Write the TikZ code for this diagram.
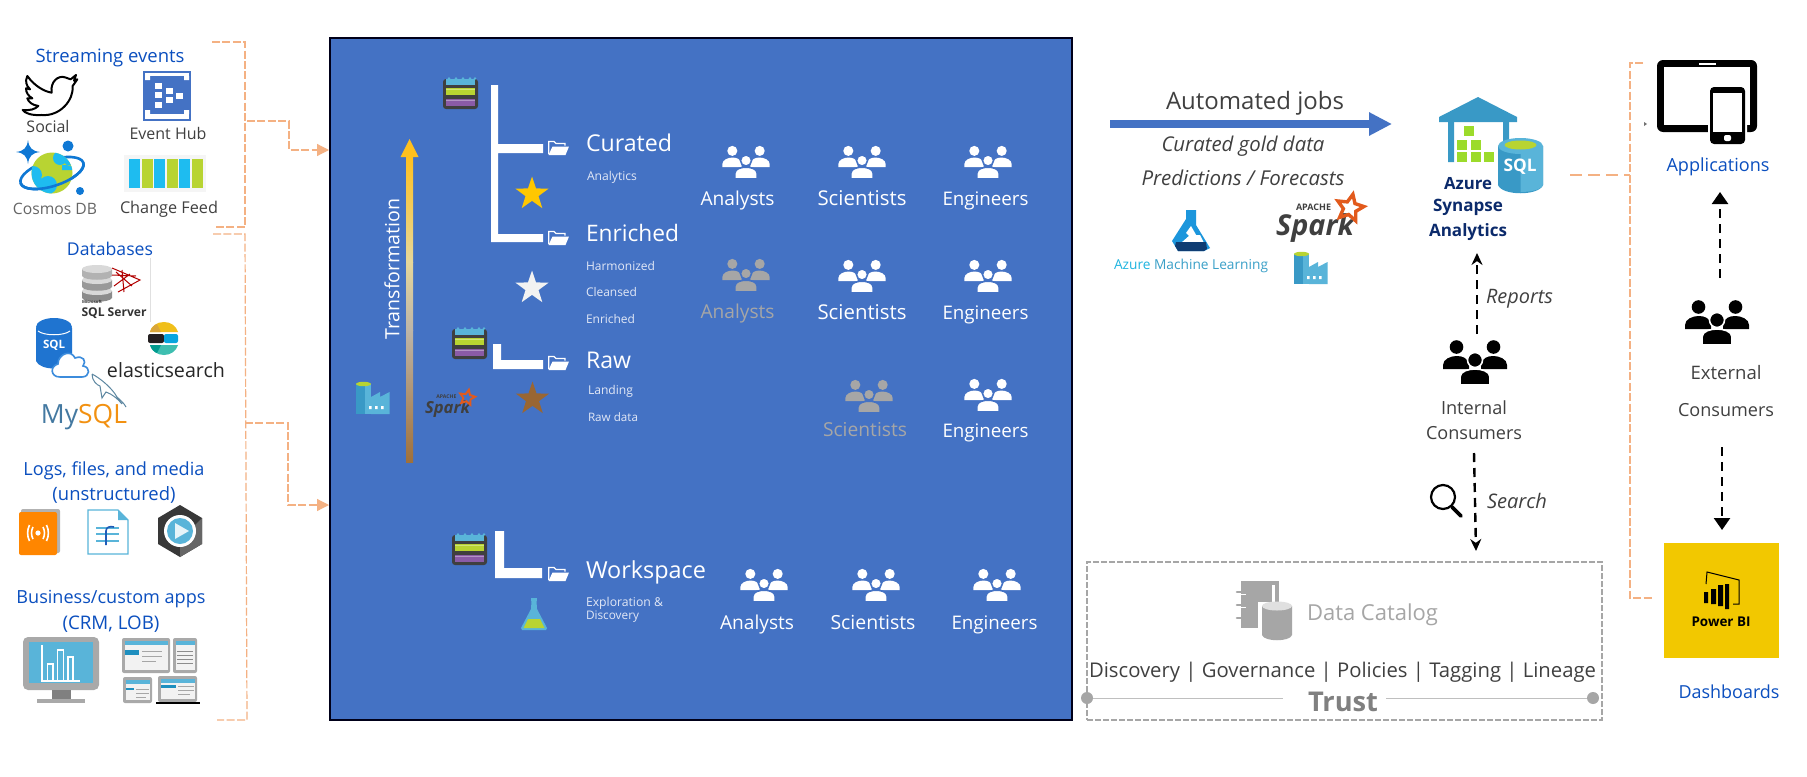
\documentclass[tikz,border=0pt]{standalone}
\usepackage{fontspec}
\setmainfont{Open Sans}
\usetikzlibrary{arrows.meta,shapes.geometric}
\newlength\fitL
\newcommand\fw[2]{\setlength\fitL{#1pt}\resizebox{0.5\fitL}{!}{#2}}
\definecolor{boxblue}{HTML}{4472C4}
\definecolor{linkblue}{HTML}{0B4FBF}
\definecolor{txt}{HTML}{404040}
\definecolor{orng}{HTML}{F4B183}
\definecolor{azlight}{HTML}{59B4D9}
\definecolor{azdark}{HTML}{3999C6}
\definecolor{azlime}{HTML}{B8D432}
\definecolor{lakedark}{HTML}{3F3F3F}
\definecolor{lakepurple}{HTML}{8A5BA6}
\definecolor{softwhite}{HTML}{E2E8F6}
\definecolor{greyed}{HTML}{A6A6A6}
\definecolor{frameg}{HTML}{A9A9A9}
\definecolor{navy}{HTML}{0B2A6B}
\definecolor{sparkor}{HTML}{E25A1C}
\definecolor{cosmosb}{HTML}{0F78D4}
\definecolor{cosmosc}{HTML}{1EBCF0}
\definecolor{sqlb}{HTML}{1F74D0}
\definecolor{cloudl}{HTML}{3C8CDC}
\definecolor{elY}{HTML}{F0BF1A}
\definecolor{elYd}{HTML}{D9A63A}
\definecolor{elK}{HTML}{231F20}
\definecolor{elB}{HTML}{07A5DE}
\definecolor{elT}{HTML}{3EBEB0}
\definecolor{elTd}{HTML}{019B8F}
\definecolor{dolph}{HTML}{5D87A1}
\definecolor{fdark}{HTML}{1F5CB8}
\definecolor{strip}{HTML}{1E8FBF}
\definecolor{starG}{HTML}{FFC700}
\definecolor{starB}{HTML}{996633}
\definecolor{arrG}{HTML}{FFC01E}
\definecolor{arrM}{HTML}{E6D79A}
\definecolor{arrN}{HTML}{BDB5A8}
\definecolor{arrB}{HTML}{A0703A}
\definecolor{mlb}{HTML}{1C96DC}
\definecolor{mld}{HTML}{0F3D73}
\definecolor{pbiy}{HTML}{F2C800}
\tikzset{
  lbl/.style={inner sep=0pt,outer sep=0pt,text=txt},
  src/.style={lbl,text=linkblue},
  wht/.style={lbl,text=white},
  sml/.style={lbl,anchor=west,text=softwhite},
  gry/.style={lbl,text=greyed},
  orangedash/.style={draw=orng,line width=.6pt,dash pattern=on 4pt off 1.2pt},
  blackdash/.style={draw=black,line width=1.2pt,dash pattern=on 4.5pt off 3pt},
  bigstar/.style={star,star points=5,star point ratio=2.55,minimum size=17.5pt,inner sep=0pt},
}
\newcommand\peopleicon[6]{% name x y scale colour bg
  \coordinate (#1) at (#2,#3);
  \begin{scope}[shift={(#2,#3)},scale=#4]
    \fill[#5] (-18.5,-15) circle (6.8) (18.5,-15) circle (6.8);
    \fill[#5] (-32,7) -- (-32,3) .. controls (-32,-3) and (-24,-6) .. (-18.5,-6) .. controls (-12,-6) and (-8,-4) .. (-6,2) -- (-6,7) -- cycle;
    \fill[#5] (32,7) -- (32,3) .. controls (32,-3) and (24,-6) .. (18.5,-6) .. controls (12,-6) and (8,-4) .. (6,2) -- (6,7) -- cycle;
    \fill[#5,draw=#6,line width=.8pt] (0,-2) circle (7.5);
    \fill[#5,draw=#6,line width=.8pt] (-15,23) -- (-15,15) .. controls (-15,9) and (-6,7) .. (0,7) .. controls (6,7) and (15,9) .. (15,15) -- (15,23) -- cycle;
  \end{scope}}
\newcommand\lakeicon[3]{%
  \coordinate (#1) at (#2,#3);
  \begin{scope}[shift={(#2,#3)}]
    \fill[lakedark,rounded corners=1.5pt] (0,2) rectangle (35,32);
    \fill[azlight] (3,1.5) rectangle (32,8);
    \fill[azlime] (3,11) rectangle (32,18);
    \fill[lakepurple] (3,21.5) rectangle (32,29);
    \foreach \kk in {6,13,20,27,32}{\fill[azlight] (\kk,1.5) circle (1.3);}
    \draw[white,opacity=.35,line width=.5pt] (3,12.5) -- (32,12.5) (3,23) -- (32,23);
  \end{scope}}
\newcommand\foldericon[3]{%
  \coordinate (#1) at (#2,#3);
  \begin{scope}[shift={(#2,#3)}]
    \draw[white,line width=.6pt] (.7,14) -- (.7,1.5) -- (6,1.5) -- (8,3.5) -- (17,3.5) -- (17,5.5);
    \fill[white] (4.5,6.5) -- (21,6.5) -- (17.5,15) -- (0.5,15) -- cycle;
  \end{scope}}
\newcommand\factoryicon[3]{%
  \coordinate (#1) at (#2,#3);
  \begin{scope}[shift={(#2,#3)}]
    \fill[azdark] (0,2) rectangle (15,32);
    \fill[azlight] (9,2) rectangle (15,32);
    \fill[azlime] (7.5,2) ellipse (7.5 and 2.2);
    \fill[azlight] (15,15) -- (24,10) -- (24,15) -- (33.5,10) -- (33.5,32) -- (15,32) -- cycle;
    \fill[white] (13,24) rectangle (15.5,27) (19,24) rectangle (21.5,27) (25,24) rectangle (27.5,27);
  \end{scope}}
\newcommand\sparklogo[6]{% name x y scale textwidth apachewidth
  \coordinate (#1) at (#2,#3);
  \begin{scope}[shift={(#2,#3)},scale=#4]
    \node[lbl,text=lakedark,font=\bfseries\itshape,anchor=west] (#1t) at (0,35) {\fw{#5}{Spark}};
    \node[lbl,text=lakedark,font=\bfseries,anchor=west] (#1a) at (20,14) {\fw{#6}{APACHE}};
    \node[star,star points=5,star point ratio=2.1,minimum size=#4*14pt,inner sep=0pt,draw=sparkor,line width=#4*1.7pt,rotate=-12] (#1s) at (74,15) {};
  \end{scope}}
\newcommand\miniscreen[4]{% x1 y1 x2 y2 (frame)
  \fill[frameg,rounded corners=1pt] (#1,#2) rectangle (#3,#4);
  \fill[white!95!black] (#1+2.5,#2+3) rectangle (#3-2.5,#4-3);
  \fill[azlight] (#1+2.5,#2+3) rectangle (#3-2.5,#2+7);}
\begin{document}
\begin{tikzpicture}[x=.5pt,y=-.5pt]
\useasboundingbox (0,0) rectangle (1807,776);
\fill[white] (0,0) rectangle (1807,776);

%------ left column texts
\node[src] (tStream) at (110,58) {\fw{149}{Streaming events}};
\node[lbl] (tSocial) at (48,127) {\fw{43}{Social}};
\node[lbl] (tHub) at (168,133) {\fw{77}{Event Hub}};
\node[lbl,text=black!60] (tCosmos) at (55,209) {\fw{84}{Cosmos DB}};
\node[lbl] (tFeed) at (169,209) {\fw{98}{Change Feed}};
\node[src] (tDb) at (110,249) {\fw{86}{Databases}};
\node[lbl,text=black!85] (tElastic) at (166,370) {\fw{118}{elasticsearch}};
\node[lbl] (tMy) at (84,417) {\fw{86}{\textcolor[HTML]{4479A1}{My}\textcolor[HTML]{F29111}{SQL}}};
\node[src] (tLogs) at (114,471) {\fw{181}{Logs, files, and media}};
\node[src] (tUns) at (114,495) {\fw{123}{(unstructured)}};
\node[src] (tBiz) at (111,599) {\fw{189}{Business/custom apps}};
\node[src] (tCrm) at (111,624) {\fw{97}{(CRM, LOB)}};

%------ twitter
\begin{scope}[shift={(0,20)},scale=.3333]
\draw[black,fill=white,line width=1pt,line join=round] (82,168) .. controls (105,200) and (135,215) .. (155,218)
  .. controls (150,185) and (175,165) .. (195,172) -- (212,178) -- (228,165) -- (222,182) -- (232,178) -- (218,198)
  .. controls (222,240) and (180,290) .. (125,285) .. controls (95,287) and (75,280) .. (68,270)
  .. controls (90,272) and (105,268) .. (115,258) .. controls (95,255) and (85,245) .. (82,235) -- (97,235)
  .. controls (85,228) and (78,218) .. (78,205) -- (90,208) .. controls (78,195) and (75,185) .. (82,168) -- cycle;
\end{scope}
%------ event hub
\fill[boxblue] (143,71) rectangle (191,121);
\fill[white] (145,73) rectangle (189,119);
\fill[boxblue] (145,76) rectangle (189,114);
\fill[white] (145,76) rectangle (150,80) (184,76) rectangle (189,80) (145,110) rectangle (150,114) (184,110) rectangle (189,114);
\foreach \sx/\sy in {158/86,158/95,169/91,169/100,179/96,158/105}{\fill[white] (\sx-3.5,\sy-3) rectangle (\sx+3.5,\sy+3);}
%------ cosmos
\begin{scope}[shift={(52,173)},rotate=18]
\draw[cosmosb,line width=1.3pt] (0,0) ellipse (33 and 13);
\end{scope}
\fill[azlime] (52,173) circle (20.5);
\begin{scope}
\clip (52,173) circle (20.5);
\fill[cosmosc] (33,175) circle (9) (48,185) circle (9) (34,190) circle (10);
\fill[cosmosc] (60,158) circle (7) (70,160) circle (6) (62,165) rectangle (74,170);
\end{scope}
\begin{scope}[shift={(52,173)},rotate=18]
\clip (-40,0) rectangle (40,20);
\draw[cosmosb,line width=1.3pt] (0,0) ellipse (33 and 13);
\end{scope}
\fill[cosmosb] (28,140) .. controls (29,148) and (32,151) .. (40,152) .. controls (32,153) and (29,156) .. (28,164) .. controls (27,156) and (24,153) .. (16,152) .. controls (24,151) and (27,148) .. (28,140) -- cycle;
\fill[cosmosb] (68,146) circle (5.5) (80,191) circle (4);
%------ change feed
\fill[black!4] (124,155) rectangle (206,192);
\foreach \cx/\cc in {129/cosmosc,141.5/azlime,154/cosmosc,166.5/azlime,179/cosmosc,191.5/azlime}{\fill[\cc] (\cx,159) rectangle (\cx+11,188);}
%------ sql server
\draw[black!12,line width=.5pt] (150,258) -- (150,322);
\foreach \dy/\dc in {288/black!45,277/black!40,266/black!30}{
  \fill[\dc] (82,\dy+3) -- (82,\dy+10) .. controls (84,\dy+15) and (110,\dy+15) .. (112,\dy+10) -- (112,\dy+3) -- cycle;
  \fill[black!15] (97,\dy+3) ellipse (15 and 4);}
\draw[red!70!black,line width=.5pt] (112,268) -- (140,280) -- (118,292) (116,272) -- (132,286) (122,270) -- (124,292) (130,274) -- (114,286) (112,275) -- (136,276);
\node[lbl,text=black!80,font=\bfseries] (tMs) at (92,302) {\fw{20}{Microsoft}};
\node[lbl,text=black!80,font=\bfseries] (tSqlS) at (114,313) {\fw{65}{SQL Server}};
%------ sql db cloud
\fill[sqlb] (36,328) -- (36,361) .. controls (40,371) and (68,371) .. (72,361) -- (72,328) -- cycle;
\fill[sqlb] (54,327) ellipse (18 and 9);
\draw[white,line width=.5pt] (38,331) .. controls (44,336) and (64,336) .. (70,331);
\node[lbl,text=white,font=\bfseries] (tSql) at (54,345) {\fw{22}{SQL}};
\draw[fill=white,draw=cloudl,line width=.8pt] (60,377) .. controls (50,377) and (50,366) .. (58,364) .. controls (58,354) and (71,349) .. (75,358) .. controls (83,355) and (87,361) .. (83,366) .. controls (91,367) and (90,377) .. (82,377) -- cycle;
%------ elastic
\fill[elY] (150,332) .. controls (151,326) and (157,322) .. (164,322) .. controls (171,322) and (176,326) .. (178,332) -- cycle;
\fill[elYd] (150,332) .. controls (151,328) and (154,325) .. (157,324) -- (161,332) -- cycle;
\fill[elK,rounded corners=1pt] (148,334) rectangle (164,343);
\fill[elB,rounded corners=1pt] (164,334) rectangle (178,343);
\fill[elT] (150,345) .. controls (152,351) and (157,355) .. (164,355) .. controls (171,355) and (176,351) .. (178,345) -- cycle;
\fill[elTd] (150,345) .. controls (151,349) and (154,352) .. (157,353) -- (161,345) -- cycle;
%------ dolphin
\draw[dolph,line width=.5pt] (92,374) .. controls (100,378) and (112,388) .. (117,397) .. controls (120,400) and (124,403) .. (126,407) (92,374) .. controls (92,381) and (97,385) .. (100,386) -- (102,398) -- (106,392) .. controls (112,394) and (118,399) .. (122,404);
%------ logs icons
\fill[black!30,rounded corners=1pt] (21,509) rectangle (60,553);
\fill[orange!95!yellow,rounded corners=1pt] (19,512) rectangle (57,555);
\fill[white] (38,533) circle (2.6);
\draw[white,line width=.8pt] (33,527) .. controls (31,531) and (31,535) .. (33,539) (43,527) .. controls (45,531) and (45,535) .. (43,539) (29.5,525) .. controls (27,530) and (27,536) .. (29.5,541) (46.5,525) .. controls (49,530) and (49,536) .. (46.5,541);
\draw[azlight,fill=white,line width=.7pt] (88,510) -- (118,510) -- (128,520) -- (128,554) -- (88,554) -- cycle;
\fill[azlight] (118,510) -- (128,520) -- (118,520) -- cycle;
\draw[azlight,line width=.9pt] (96,528) -- (119,528) (96,534) -- (119,534) (96,541) -- (119,541);
\draw[fdark,line width=.8pt] (106,545) -- (106,531) .. controls (106,527) and (110,526) .. (114,527);
\fill[black!78] (180,505) -- (202,518) -- (202,544) -- (180,557) -- (158,544) -- (158,518) -- cycle;
\fill[black!60] (202,518) -- (202,544) -- (180,557) -- (180,540) -- cycle;
\fill[white] (180,531) circle (16);
\fill[azlight] (180,531) circle (13);
\fill[white!85!azlight] (175,523) -- (189,531) -- (175,539) -- cycle;
%------ monitor
\fill[frameg,rounded corners=2.5pt] (23,637) rectangle (99,690);
\fill[azlight] (29,642) rectangle (93,683);
\draw[white,line width=.6pt] (42,645) -- (42,681) -- (80,681);
\draw[white,line width=.6pt] (47.5,681) -- (47.5,664) -- (53,664) -- (53,681) (57.5,681) -- (57.5,650) -- (63.5,650) -- (63.5,681) (68,681) -- (68,657) -- (73,657) -- (73,681);
\fill[black!50] (52,690) rectangle (71,699);
\fill[frameg] (37,699) rectangle (85,703);
%------ devices
\miniscreen{122}{638}{170}{673}
\fill[strip] (125,650) rectangle (139,655);
\draw[black!35,line width=.4pt] (142,651) -- (162,651) (142,656) -- (162,656) (142,661) -- (156,661);
\miniscreen{173}{638}{197}{673}
\draw[black!45,line width=.4pt] (177,651) -- (193,651) (177,655) -- (193,655) (177,659) -- (193,659) (177,663) -- (193,663);
\miniscreen{123}{677}{152}{703}
\fill[strip] (125.5,688) rectangle (134,690);
\draw[black!35,line width=.4pt] (136,689) -- (149,689) (136,693) -- (149,693) (136,697) -- (146,697);
\miniscreen{158}{676}{197}{702}
\fill[strip] (160.5,685) rectangle (176,688);
\draw[black!35,line width=.4pt] (178,686) -- (194,686) (178,690) -- (194,690) (178,694) -- (190,694);
\draw[black,line width=.6pt] (156,703) -- (200,703);

%------ central box
\node[draw=black!90!blue,line width=1pt,fill=boxblue,minimum width=371pt,minimum height=341pt,inner sep=0pt] (lake) at (701,379) {};

%------ source connectors
\coordinate (a1) at (212,42); \coordinate (a2) at (245,42); \coordinate (a3) at (245,227); \coordinate (a4) at (215,227);
\coordinate (b1) at (213,234); \coordinate (b2) at (245,234); \coordinate (b3) at (247,720); \coordinate (b4) at (217,720);
\coordinate (c1) at (247,121); \coordinate (c2) at (289,121); \coordinate (c3) at (289,150);
\coordinate (d1) at (245,423); \coordinate (d2) at (288,423); \coordinate (d3) at (288,505);
\draw[orangedash] (a1) -- (a2) -- (a3) -- (a4);
\draw[orangedash] (b1) -- (b2) -- (b3) -- (b4);
\draw[orangedash,-{Triangle[length=6pt,width=6pt]}] (c1) -- (c2) -- (c3) -- (c3 -| lake.west);
\draw[orangedash,-{Triangle[length=6pt,width=6pt]}] (d1) -- (d2) -- (d3) -- (d3 -| lake.west);

%------ zones
\lakeicon{l1}{443}{77}
\lakeicon{l2}{452}{327}
\lakeicon{l3}{452}{533}
\fill[white] (491,85) rectangle (498,242) (491,144) rectangle (543,153) (491,234) rectangle (543,242);
\fill[white] (493,344) rectangle (501,369) (493,360) rectangle (543,369);
\fill[white] (495,531) rectangle (504,578) (495,568) rectangle (542,578);
\foldericon{f1}{548}{140}
\foldericon{f2}{548}{230}
\foldericon{f3}{548}{355}
\foldericon{f4}{548}{566}

\node[wht,anchor=west] (zCur) at (586,143) {\fw{86}{Curated}};
\node[sml] (zAna) at (587,177) {\fw{50}{Analytics}};
\node[wht,anchor=west] (zEnr) at (586,233) {\fw{93}{Enriched}};
\node[sml] (zHar) at (586,266) {\fw{69}{Harmonized}};
\node[sml] (zCle) at (586,292) {\fw{51}{Cleansed}};
\node[sml] (zEn2) at (586,319) {\fw{49}{Enriched}};
\node[wht,anchor=west] (zRaw) at (586,360) {\fw{45}{Raw}};
\node[sml] (zLan) at (588,391) {\fw{45}{Landing}};
\node[sml] (zRda) at (588,417) {\fw{50}{Raw data}};
\node[wht,anchor=west] (zWor) at (586,572) {\fw{120}{Workspace}};
\node[sml] (zExp) at (586,603) {\fw{77}{Exploration \&}};
\node[sml] (zDis) at (586,617) {\fw{53}{Discovery}};

\node[bigstar,fill=starG] (s1) at (532,194) {};
\node[bigstar,fill=black!5] (s2) at (532,288) {};
\node[bigstar,fill=starB] (s3) at (532.5,399) {};

%------ transformation arrow
\shade[top color=arrG,bottom color=arrM] (406,155) rectangle (413,262);
\shade[top color=arrM,bottom color=arrN] (406,262) rectangle (413,330);
\shade[top color=arrN,bottom color=arrB] (406,330) rectangle (413,462);
\fill[arrG] (409.5,139) -- (418.5,157) -- (400.5,157) -- cycle;
\node[wht,rotate=90] (zTra) at (392,269) {\fw{141}{Transformation}};
\factoryicon{fa1}{356}{382}
\sparklogo{sp1}{425}{389}{.57}{45}{20}
\begin{scope}[shift={(521,598)}]
\fill[azlight] (10,0) rectangle (16,3);
\fill[azlight] (10.5,3) -- (15.5,3) -- (16,11) -- (26,30) -- (25,32) -- (1,32) -- (0,30) -- (10,11) -- cycle;
\fill[azlime] (7,21) -- (19,21) -- (23.5,30) -- (2.5,30) -- cycle;
\end{scope}

%------ people in lake
\peopleicon{p11}{746}{162}{.74}{white}{boxblue}
\peopleicon{p12}{862}{162}{.74}{white}{boxblue}
\peopleicon{p13}{988}{162}{.74}{white}{boxblue}
\peopleicon{p21}{746}{275}{.74}{greyed}{boxblue}
\peopleicon{p22}{862}{276}{.74}{white}{boxblue}
\peopleicon{p23}{988}{276}{.74}{white}{boxblue}
\peopleicon{p32}{869}{396}{.74}{greyed}{boxblue}
\peopleicon{p33}{988}{395}{.74}{white}{boxblue}
\peopleicon{p41}{764}{585}{.74}{white}{boxblue}
\peopleicon{p42}{876}{585}{.74}{white}{boxblue}
\peopleicon{p43}{997}{585}{.74}{white}{boxblue}
\node[wht] (r11) at (737.5,200.5) {\fw{74}{Analysts}};
\node[wht] (r12) at (862,198) {\fw{89}{Scientists}};
\node[wht] (r13) at (985.5,200.5) {\fw{86}{Engineers}};
\node[gry] (r21) at (737.5,314) {\fw{74}{Analysts}};
\node[wht] (r22) at (862,312) {\fw{89}{Scientists}};
\node[wht] (r23) at (985.5,314.5) {\fw{86}{Engineers}};
\node[gry] (r32) at (865,430) {\fw{84}{Scientists}};
\node[wht] (r33) at (985.5,432.5) {\fw{86}{Engineers}};
\node[wht] (r41) at (757,624.5) {\fw{74}{Analysts}};
\node[wht] (r42) at (873,622) {\fw{85}{Scientists}};
\node[wht] (r43) at (994.5,624.5) {\fw{86}{Engineers}};

%------ automated jobs
\coordinate (j1) at (1110,124); \coordinate (j2) at (1392,124);
\draw[boxblue,line width=4pt,-{Triangle[length=11.5pt,width=11pt]}] (j1) -- (j2);
\node[lbl] (tAuto) at (1255,103) {\fw{178}{Automated jobs}};
\node[lbl,font=\itshape] (tGold) at (1243,146) {\fw{163}{Curated gold data}};
\node[lbl,font=\itshape] (tPred) at (1243,178) {\fw{203}{Predictions / Forecasts}};
%------ azure ml
\fill[mlb] (1186,210) -- (1196,210) -- (1196,225) -- (1210,248) -- (1204,251) -- (1178,251) -- (1172,241) -- (1186,219) -- cycle;
\fill[white] (1190,235) -- (1200,235) -- (1204,243) -- (1181,243) -- cycle;
\fill[white] (1186,233) -- (1191,226) -- (1199,240) -- (1193,240) -- cycle;
\fill[mld] (1176,242) -- (1206,242) -- (1207,249) -- (1204,251) -- (1178,251) -- (1175,246) -- cycle;
\node[lbl] (tAml) at (1191,266) {\fw{154}{\textcolor[HTML]{1EB4E0}{Azure} \textcolor[HTML]{3AA0C8}{Machine Learning}}};
\sparklogo{sp2}{1276}{193}{1}{78}{35}
\factoryicon{fa2}{1294}{252}
%------ synapse
\fill[azdark] (1439,117) -- (1478,97) -- (1517,117) -- (1517,122) -- (1439,122) -- cycle;
\fill[azdark] (1448,122) rectangle (1454,162) (1503,122) rectangle (1509,145);
\foreach \gx/\gy in {1469/131,1462/145,1476/145,1462/157,1476/157,1489/157}{\fill[azlime!85!green] (\gx-5,\gy-5) rectangle (\gx+5,\gy+5);}
\fill[azdark] (1498,146) -- (1498,185) .. controls (1502,196) and (1539,196) .. (1543,185) -- (1543,146) -- cycle;
\fill[azlight] (1520.5,146) -- (1543,146) -- (1543,185) .. controls (1541,190) and (1530,192) .. (1520.5,192) -- cycle;
\fill[azlight] (1520.5,146) ellipse (22.5 and 8);
\fill[azlime] (1520.5,145) ellipse (16 and 4.5);
\node[lbl,text=white,font=\bfseries] (tSq2) at (1520,167) {\fw{33}{SQL}};
\node[lbl,text=navy,font=\bfseries] (tAz) at (1468,184) {\fw{48}{Azure}};
\node[lbl,text=navy,font=\bfseries] (tSyn) at (1468,207) {\fw{70}{Synapse}};
\node[lbl,text=navy,font=\bfseries] (tAna) at (1468,232) {\fw{78}{Analytics}};
%------ internal consumers
\peopleicon{pInt}{1475}{362}{1}{black}{white}
\node[lbl] (tInt) at (1474,408) {\fw{66}{Internal}};
\node[lbl] (tCon) at (1474,433) {\fw{96}{Consumers}};
\coordinate (q1) at (1477,334); \coordinate (q2) at (1477,253);
\draw[blackdash,-{Stealth[length=6pt,width=5.5pt]}] (q1) -- (q2);
\node[lbl,font=\itshape,anchor=west] (tRep) at (1486,299) {\fw{67}{Reports}};
\coordinate (q3) at (1474,453); \coordinate (q4) at (1476,551);
\draw[blackdash,-{Stealth[length=6pt,width=5.5pt]}] (q3) -- (q4);
\node[lbl,font=\itshape,anchor=west] (tSea) at (1487,501) {\fw{60}{Search}};
\draw[black,line width=1.1pt] (1443,497) circle (12);
\draw[black,line width=1.8pt,line cap=round] (1452,507) -- (1461,516);
%------ data catalog box
\node[draw=greyed,line width=.6pt,dash pattern=on 3pt off 1pt,minimum width=257.5pt,minimum height=79pt,inner sep=0pt] (cat) at (1344.5,641) {};
\fill[greyed] (1241,581) rectangle (1279,628);
\fill[white] (1245,585) rectangle (1275,632);
\fill[greyed] (1241,585) rectangle (1272,628);
\draw[greyed,line width=1.3pt,line cap=round] (1237,592) -- (1247,592) (1237,605) -- (1247,605) (1237,618) -- (1247,618);
\draw[white,line width=.4pt] (1240,594.5) -- (1246,594.5) (1240,607.5) -- (1246,607.5);
\fill[white] (1258,602) rectangle (1296,642);
\fill[greyed] (1262,606) -- (1262,635) .. controls (1264,642) and (1290,642) .. (1292,635) -- (1292,606) -- cycle;
\fill[black!12] (1277,606) ellipse (15 and 4.5);
\node[gry,anchor=west] (tCat) at (1307,615) {\fw{131}{Data Catalog}};
\node[lbl] (tDisc) at (1342.5,672) {\fw{507}{Discovery | Governance | Policies | Tagging | Lineage}};
\node[lbl,font=\bfseries,text=black!50] (tTrust) at (1343,702) {\fw{70}{Trust}};
\node[circle,fill=greyed,minimum size=6pt,inner sep=0pt] (dotL) at (1087,698) {};
\node[circle,fill=greyed,minimum size=6pt,inner sep=0pt] (dotR) at (1593,698) {};
\coordinate (tr1) at (1283,698); \coordinate (tr2) at (1386,698);
\draw[black!25,line width=.5pt] (dotL) -- (tr1) (tr2) -- (dotR);
%------ right bracket
\coordinate (e0) at (1570,175); \coordinate (e1) at (1630,175); \coordinate (e2) at (1643,63); \coordinate (e3) at (1630,63); \coordinate (e4) at (1630,598); \coordinate (e5) at (1653,598);
\draw[orangedash] (e2) -- (e3) -- (e4) -- (e5);
\draw[orng,line width=1.1pt,dash pattern=on 6pt off 3pt] (e0) -- (e1);
\fill[black!55] (1644,122) -- (1647,124) -- (1644,126) -- cycle;
%------ applications
\fill[black,rounded corners=3pt] (1657,60) rectangle (1757,132);
\fill[white] (1664,67) rectangle (1750,125);
\draw[white,line width=.8pt] (1699,64) -- (1716,64);
\fill[white,rounded corners=2pt] (1708,85) rectangle (1747,146);
\fill[black,rounded corners=2pt] (1710,87) rectangle (1745,144);
\fill[white] (1713,93) rectangle (1742,132);
\fill[white,rounded corners=1pt] (1724,135) rectangle (1731,141);
\node[src] (tApp) at (1718,167) {\fw{103}{Applications}};
\peopleicon{pExt}{1717}{322}{1}{black}{white}
\node[lbl] (tExt) at (1726,373) {\fw{71}{External}};
\node[lbl] (tEco) at (1726,410) {\fw{96}{Consumers}};
\coordinate (u1) at (1720,278); \coordinate (u2) at (1720,192);
\coordinate (v1) at (1722,447); \coordinate (v2) at (1722,530);
\draw[blackdash,-{Triangle[length=6pt,width=8pt]}] (u1) -- (u2);
\draw[blackdash,-{Triangle[length=6pt,width=8pt]}] (v1) -- (v2);
%------ power bi
\node[fill=pbiy,minimum width=57.5pt,minimum height=57.5pt,inner sep=0pt] (pbi) at (1721.5,600.5) {};
\draw[black,line width=.5pt] (1706,584) -- (1707,572) -- (1739,580) -- (1739,604) -- (1733,604);
\fill[black] (1704,592) rectangle (1708,603) (1711,589) rectangle (1716,604) (1718,585) rectangle (1723,606) (1725,584) rectangle (1729,609);
\node[lbl,text=black,font=\bfseries] (tPbi) at (1721,622) {\fw{59}{Power BI}};
\node[src] (tDash) at (1729,692) {\fw{101}{Dashboards}};
\end{tikzpicture}
\end{document}
